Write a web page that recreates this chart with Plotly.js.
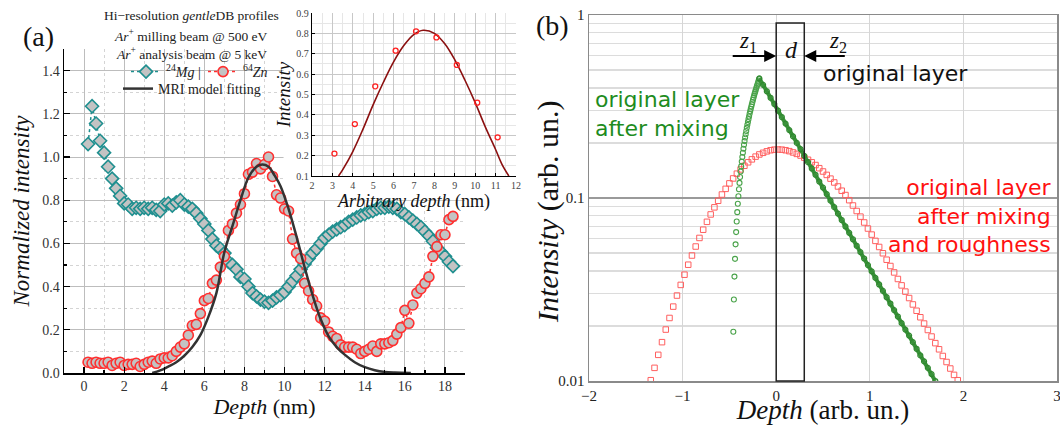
<!DOCTYPE html>
<html>
<head>
<meta charset="utf-8">
<script src="https://cdn.plot.ly/plotly-3.0.1.min.js"></script>
<style>html,body{margin:0;padding:0;background:#fff;}#chart{width:1060px;height:425px;}</style>
</head>
<body>
<div id="chart"></div>
<script>
// ---------- Panel (a): depth profiles ----------
const depthNm = [0.2,0.4,0.6,0.8,1.0,1.2,1.4,1.6,1.8,2.0,
  2.2,2.4,2.6,2.8,3.0,3.2,3.4,3.6,3.8,4.0,
  4.2,4.4,4.6,4.8,5.0,5.2,5.4,5.6,5.8,6.0,
  6.2,6.4,6.6,6.8,7.0,7.2,7.4,7.6,7.8,8.0,
  8.2,8.4,8.6,8.8,9.0,9.2,9.4,9.6,9.8,10.0,
  10.2,10.4,10.6,10.8,11.0,11.2,11.4,11.6,11.8,12.0,
  12.2,12.4,12.6,12.8,13.0,13.2,13.4,13.6,13.8,14.0,
  14.2,14.4,14.6,14.8,15.0,15.2,15.4,15.6,15.8,16.0,
  16.2,16.4,16.6,16.8,17.0,17.2,17.4,17.6,17.8,18.0,
  18.2,18.4];
const mg24 = [1.06,1.235,1.155,1.075,1.02,0.955,0.90,0.855,0.82,0.785,
  0.78,0.76,0.765,0.76,0.765,0.76,0.765,0.755,0.75,0.78,
  0.785,0.775,0.79,0.80,0.78,0.77,0.76,0.74,0.715,0.69,
  0.66,0.62,0.59,0.575,0.555,0.515,0.50,0.48,0.445,0.435,
  0.40,0.37,0.355,0.34,0.33,0.325,0.335,0.35,0.36,0.375,
  0.40,0.425,0.45,0.48,0.505,0.53,0.555,0.575,0.60,0.625,
  0.64,0.655,0.665,0.675,0.685,0.70,0.71,0.72,0.73,0.735,
  0.745,0.75,0.76,0.765,0.765,0.77,0.765,0.76,0.745,0.735,
  0.72,0.705,0.69,0.675,0.655,0.635,0.61,0.58,0.56,0.54,
  0.515,0.495];
const zn64 = [0.05,0.045,0.05,0.045,0.045,0.05,0.035,0.045,0.05,0.035,
  0.04,0.04,0.045,0.03,0.04,0.05,0.055,0.045,0.065,0.07,
  0.07,0.08,0.10,0.12,0.135,0.175,0.22,0.225,0.275,0.335,
  0.345,0.415,0.43,0.49,0.54,0.66,0.69,0.74,0.78,0.83,
  0.92,0.93,0.97,0.945,0.965,1.0,0.91,0.825,0.81,0.76,
  0.75,0.62,0.555,0.53,0.415,0.38,0.34,0.31,0.255,0.24,
  0.19,0.17,0.16,0.13,0.12,0.12,0.12,0.11,0.09,0.10,
  0.11,0.125,0.10,0.135,0.135,0.14,0.15,0.18,0.21,0.29,
  0.23,0.315,0.37,0.39,0.415,0.445,0.54,0.585,0.64,0.64,
  0.71,0.725];
const mriDepth = [3.4,3.8,4.2,4.6,5.0,5.4,5.8,6.2,6.6,7.0,7.4,7.8,8.2,8.6,8.9,9.2,9.5,9.8,10.2,10.6,11.0,11.4,11.8,12.2,12.6,13.0,13.5,14.0,14.5,15.0,15.5,16.3];
const mriFit   = [0.0,0.012,0.03,0.05,0.08,0.12,0.175,0.26,0.37,0.56,0.68,0.80,0.905,0.955,0.965,0.955,0.915,0.865,0.76,0.63,0.49,0.36,0.25,0.17,0.12,0.085,0.05,0.027,0.013,0.005,0.002,0.0];

// ---------- Inset ----------
const insetDepth = [3.1,4.1,5.1,6.1,7.1,8.1,9.1,10.1,11.1];
const insetInt   = [0.21,0.355,0.54,0.715,0.81,0.78,0.645,0.46,0.29];
const insetFitX  = [3.3,3.5,4.0,4.5,5.0,5.5,6.0,6.5,7.0,7.45,8.0,8.5,9.0,9.5,10.0,10.5,11.0,11.3,11.65];
const insetFitY  = [0.10,0.13,0.22,0.33,0.45,0.56,0.66,0.74,0.795,0.815,0.80,0.75,0.67,0.57,0.46,0.34,0.23,0.16,0.10];

// ---------- Panel (b) ----------
const mixRiseX = [-0.458,-0.452,-0.446,-0.440,-0.434,-0.428,-0.422,-0.416,-0.410,-0.404,
  -0.398,-0.392,-0.386,-0.380,-0.374,-0.368,-0.362,-0.356,-0.350,-0.344,
  -0.338,-0.332,-0.326,-0.320,-0.314,-0.308,-0.302,-0.296,-0.290,-0.284,
  -0.278,-0.272,-0.266,-0.260,-0.254,-0.248,-0.242,-0.236,-0.230,-0.224,
  -0.218,-0.212,-0.206,-0.200,-0.194,-0.188,-0.182];
const mixRiseI = [0.0186,0.0279,0.0372,0.0465,0.0558,0.0651,0.0744,0.0837,0.0930,0.1023,
  0.1116,0.1209,0.1302,0.1395,0.1488,0.1581,0.1674,0.1767,0.1860,0.1953,
  0.2046,0.2139,0.2232,0.2325,0.2418,0.2511,0.2604,0.2697,0.2790,0.2883,
  0.2976,0.3069,0.3162,0.3255,0.3348,0.3441,0.3534,0.3627,0.3720,0.3813,
  0.3906,0.3999,0.4092,0.4185,0.4278,0.4371,0.4464];
const mixDecayX = [-0.18,-0.14,-0.10,-0.06,-0.02,0.02,0.06,0.10,0.14,0.18,
  0.22,0.26,0.30,0.34,0.38,0.42,0.46,0.50,0.54,0.58,
  0.62,0.66,0.70,0.74,0.78,0.82,0.86,0.90,0.94,0.98,
  1.02,1.06,1.10,1.14,1.18,1.22,1.26,1.30,1.34,1.38,
  1.42,1.46,1.50,1.54,1.58,1.62,1.66,1.70];
const mixDecayI = [0.450,0.415,0.383,0.353,0.326,0.300,0.277,0.255,0.235,0.217,
  0.200,0.185,0.170,0.157,0.145,0.134,0.123,0.114,0.105,0.0967,
  0.0891,0.0822,0.0758,0.0699,0.0645,0.0595,0.0548,0.0506,0.0467,0.0430,
  0.0397,0.0366,0.0337,0.0311,0.0287,0.0265,0.0244,0.0225,0.0207,0.0191,
  0.0177,0.0163,0.0150,0.0138,0.0128,0.0118,0.0109,0.0100];
const roughX = [-1.34,-1.30,-1.26,-1.22,-1.18,-1.14,-1.10,-1.06,-1.02,-0.98,
  -0.94,-0.90,-0.86,-0.82,-0.78,-0.74,-0.70,-0.66,-0.62,-0.58,
  -0.54,-0.50,-0.46,-0.42,-0.38,-0.34,-0.30,-0.26,-0.22,-0.18,
  -0.14,-0.10,-0.06,-0.02,0.02,0.06,0.10,0.14,0.18,0.22,
  0.26,0.30,0.34,0.38,0.42,0.46,0.50,0.54,0.58,0.62,
  0.66,0.70,0.74,0.78,0.82,0.86,0.90,0.94,0.98,1.02,
  1.06,1.10,1.14,1.18,1.22,1.26,1.30,1.34,1.38,1.42,
  1.46,1.50,1.54,1.58,1.62,1.66,1.70,1.74,1.78,1.82,
  1.86,1.90,1.94];
const roughI = [0.0101,0.0118,0.0139,0.0163,0.0191,0.0221,0.0255,0.0293,0.0335,0.0381,
  0.0432,0.0485,0.0543,0.0605,0.0671,0.0741,0.0813,0.0889,0.0966,0.1045,
  0.1122,0.1202,0.1279,0.1358,0.1432,0.1500,0.1567,0.1626,0.1683,0.1730,
  0.1766,0.1799,0.1824,0.1837,0.1841,0.1837,0.1824,0.1803,0.1774,0.1742,
  0.1706,0.1663,0.1618,0.1567,0.1514,0.1455,0.1396,0.1337,0.1276,0.1216,
  0.1156,0.1096,0.1038,0.0973,0.0910,0.0849,0.0791,0.0735,0.0681,0.0631,
  0.0583,0.0540,0.0499,0.0460,0.0425,0.0392,0.0361,0.0333,0.0308,0.0284,
  0.0262,0.0242,0.0223,0.0206,0.0190,0.0175,0.0161,0.0149,0.0137,0.0127,
  0.0117,0.0108,0.0101];
const layerStart = 0, layerEnd = 0.3;

const W = 1060, H = 425;
const px = v => v / W, py = v => 1 - v / H;
const SERIF = 'Liberation Serif, DejaVu Serif, serif';
const HAND = 'DejaVu Sans, sans-serif';

const traces = [
  {x: depthNm, y: mg24, xaxis: 'x', yaxis: 'y', mode: 'lines+markers', name: '<sup>24</sup><i>Mg</i> |',
   line: {color: '#1f8f8f', width: 1.5, dash: 'dot'},
   marker: {symbol: 'diamond', size: 10, color: '#c3c3c3', line: {color: '#1f8f8f', width: 1.6}},
   legend: 'legend'},
  {x: depthNm, y: zn64, xaxis: 'x', yaxis: 'y', mode: 'lines+markers', name: '<sup>64</sup><i>Zn</i>',
   line: {color: '#ff3030', width: 1.5, dash: 'dot'},
   marker: {symbol: 'circle', size: 10, color: '#c3c3c3', line: {color: '#ff3030', width: 1.6}},
   legend: 'legend'},
  {x: mriDepth, y: mriFit, xaxis: 'x', yaxis: 'y', mode: 'lines', name: 'MRI model fitting',
   line: {color: '#333333', width: 2.5, shape: 'spline'}, legend: 'legend2'},
  {x: insetFitX, y: insetFitY, xaxis: 'x3', yaxis: 'y3', mode: 'lines', showlegend: false,
   line: {color: '#8b1010', width: 1.6, shape: 'spline'}},
  {x: insetDepth, y: insetInt, xaxis: 'x3', yaxis: 'y3', mode: 'markers', showlegend: false,
   marker: {symbol: 'circle-open', size: 5, color: '#ff2020', line: {width: 1.3}}},
  {x: roughX, y: roughI, xaxis: 'x2', yaxis: 'y2', mode: 'markers', showlegend: false,
   marker: {symbol: 'square-open', size: 5.5, color: '#ff5f5f', line: {width: 1}}},
  {x: mixRiseX, y: mixRiseI, xaxis: 'x2', yaxis: 'y2', mode: 'markers', showlegend: false,
   marker: {symbol: 'circle-open', size: 5, color: '#4aa34a', line: {width: 1.1}}},
  {x: mixDecayX, y: mixDecayI, xaxis: 'x2', yaxis: 'y2', mode: 'lines+markers', showlegend: false,
   line: {color: '#3a923a', width: 4},
   marker: {symbol: 'circle-open', size: 5, color: '#2e882e', line: {width: 1.2}}}
];

const minorLog = [0.02,0.03,0.04,0.05,0.06,0.07,0.08,0.09,0.2,0.3,0.4,0.5,0.6,0.7,0.8,0.9];

function note(x, y, text, size, extra) {
  return Object.assign({xref: 'paper', yref: 'paper', x: px(x), y: py(y), xanchor: 'center', yanchor: 'middle',
    text: text, showarrow: false, font: {size: size, color: '#111'}}, extra || {});
}

const layout = {
  width: W, height: H, margin: {l: 0, r: 0, t: 0, b: 0},
  paper_bgcolor: '#ffffff', plot_bgcolor: '#ffffff',
  font: {family: SERIF, color: '#222', size: 14},
  showlegend: true,
  xaxis: {domain: [px(64), px(465)], anchor: 'y', range: [-1, 19], tick0: 0, dtick: 2,
    showline: true, linecolor: '#000', linewidth: 1.5, ticks: 'inside', ticklen: 6, tickwidth: 1.3, tickcolor: '#000',
    showgrid: true, gridcolor: '#bdbdbd', gridwidth: 1, zeroline: false,
    minor: {dtick: 1, tick0: 0, showgrid: true, gridcolor: '#d4d4d4', griddash: 'dot', ticks: 'inside', ticklen: 3, tickcolor: '#000'},
    tickfont: {size: 14, color: '#333'},
    title: {text: '<i>Depth</i> (nm)', font: {size: 22, color: '#111'}, standoff: 4}},
  yaxis: {domain: [py(373), py(49)], anchor: 'x', range: [0, 1.5], tick0: 0, dtick: 0.2, tickformat: '.1f',
    showline: true, linecolor: '#000', linewidth: 1.5, ticks: 'inside', ticklen: 6, tickwidth: 1.3, tickcolor: '#000',
    showgrid: true, gridcolor: '#bdbdbd', gridwidth: 1, zeroline: false,
    minor: {dtick: 0.1, tick0: 0, showgrid: true, gridcolor: '#d4d4d4', griddash: 'dot', ticks: 'inside', ticklen: 3, tickcolor: '#000'},
    tickfont: {size: 14, color: '#333'},
    title: {text: '<i>Normalized intensity</i>', font: {size: 23, color: '#111'}, standoff: 6}},
  xaxis3: {domain: [px(312), px(516)], anchor: 'y3', range: [2, 12], dtick: 1,
    showline: true, linecolor: '#000', linewidth: 1.2, ticks: 'inside', ticklen: 3, tickcolor: '#000',
    showgrid: true, gridcolor: '#c8c8c8', zeroline: false,
    minor: {dtick: 0.5, showgrid: true, gridcolor: '#e6e6e6'},
    tickfont: {size: 10, color: '#444'},
    title: {text: '<i>Arbitrary depth</i> (nm)', font: {size: 18, color: '#111'}, standoff: 0}},
  yaxis3: {domain: [py(176), py(13)], anchor: 'x3', range: [0.1, 0.9], dtick: 0.1, tickformat: '.1f',
    showline: true, linecolor: '#000', linewidth: 1.2, ticks: 'inside', ticklen: 3, tickcolor: '#000',
    showgrid: true, gridcolor: '#c8c8c8', zeroline: false,
    minor: {dtick: 0.05, showgrid: true, gridcolor: '#e6e6e6'},
    tickfont: {size: 10, color: '#444'},
    title: {text: '<i>Intensity</i>', font: {size: 19, color: '#111'}, standoff: 0}},
  xaxis2: {domain: [px(589), px(1057)], anchor: 'y2', range: [-2, 3], dtick: 1,
    showline: true, mirror: true, linecolor: '#8a8a8a', linewidth: 1.5, ticks: '',
    showgrid: true, gridcolor: '#d6d6d6', gridwidth: 1.2, zeroline: false, ticklabeloverflow: 'allow',
    tickfont: {size: 15, color: '#222'},
    title: {text: '<i>Depth</i> (arb. un.)', font: {size: 27, color: '#111'}, standoff: 4}},
  yaxis2: {domain: [py(381), py(15)], anchor: 'x2', type: 'log', range: [-2, 0],
    tickvals: [0.01, 0.1, 1], ticktext: ['0.01', '0.1', '1'],
    showline: true, mirror: true, linecolor: '#8a8a8a', linewidth: 1.5, ticks: '',
    showgrid: true, gridcolor: '#9a9a9a', gridwidth: 1.2, zeroline: false,
    minor: {tickmode: 'array', tickvals: minorLog, showgrid: true, gridcolor: '#dcdcdc', gridwidth: 1.5, ticks: ''},
    tickfont: {size: 15, color: '#222'}},
  legend: {x: px(126), y: py(72), xanchor: 'left', yanchor: 'middle', orientation: 'h',
    bgcolor: 'rgba(0,0,0,0)', font: {size: 14, color: '#222'}, itemwidth: 30,
    entrywidth: 32, entrywidthmode: 'pixels', tracegroupgap: 0},
  legend2: {x: px(118), y: py(89), xanchor: 'left', yanchor: 'middle', orientation: 'h',
    bgcolor: 'rgba(0,0,0,0)', font: {size: 14, color: '#222'}, itemwidth: 30},
  shapes: [
    {type: 'rect', xref: 'x', yref: 'y', x0: 9.95, x1: 25, y0: 0.80, y1: 2, layer: 'between',
     fillcolor: '#ffffff', line: {width: 0}},
    {type: 'rect', xref: 'x2', yref: 'paper', x0: layerStart, x1: layerEnd, y0: py(381), y1: py(23),
     line: {color: '#222', width: 1.5}, layer: 'above'}
  ],
  annotations: [
    note(38, 36, '(a)', 28),
    note(552, 25, '(b)', 28),
    note(191, 16, 'Hi−resolution <i>gentle</i>DB profiles', 13.5, {font: {size: 13.5, color: '#222'}}),
    note(191, 35, '<i>Ar</i><sup>+</sup> milling beam @ 500 eV', 13.5, {font: {size: 13.5, color: '#222'}}),
    note(191, 53, '<i>Ar</i><sup>+</sup> analysis beam @ 5 keV', 13.5, {font: {size: 13.5, color: '#222'}}),
    note(548, 212, '<i>Intensity</i> (arb. un.)', 30, {textangle: -90}),
    {xref: 'x2', yref: 'paper', x: layerStart, y: py(56), ax: -45, ay: 0, axref: 'pixel', ayref: 'pixel', text: '', showarrow: true,
     arrowhead: 2, arrowsize: 1.2, arrowwidth: 2, arrowcolor: '#000', standoff: 0},
    {xref: 'x2', yref: 'paper', x: layerEnd, y: py(56), ax: 42, ay: 0, axref: 'pixel', ayref: 'pixel', text: '', showarrow: true,
     arrowhead: 2, arrowsize: 1.2, arrowwidth: 2, arrowcolor: '#000', standoff: 0},
    note(748, 42, '<i>z</i><sub>1</sub>', 23),
    note(791, 50, '<i>d</i>', 24),
    note(838, 42, '<i>z</i><sub>2</sub>', 23),
    note(895, 74, 'original layer', 22, {font: {family: HAND, size: 22, color: '#111'}}),
    note(593, 114, 'original layer<br>after mixing', 22, {xanchor: 'left', align: 'left', font: {family: HAND, size: 22, color: '#1e8c1e'}}),
    note(1054, 216, 'original layer<br>after mixing<br>and roughness', 22, {xanchor: 'right', align: 'right', font: {family: HAND, size: 22, color: '#ff1010'}})
  ]
};

Plotly.newPlot('chart', traces, layout, {displayModeBar: false, staticPlot: true});
</script>
</body>
</html>
